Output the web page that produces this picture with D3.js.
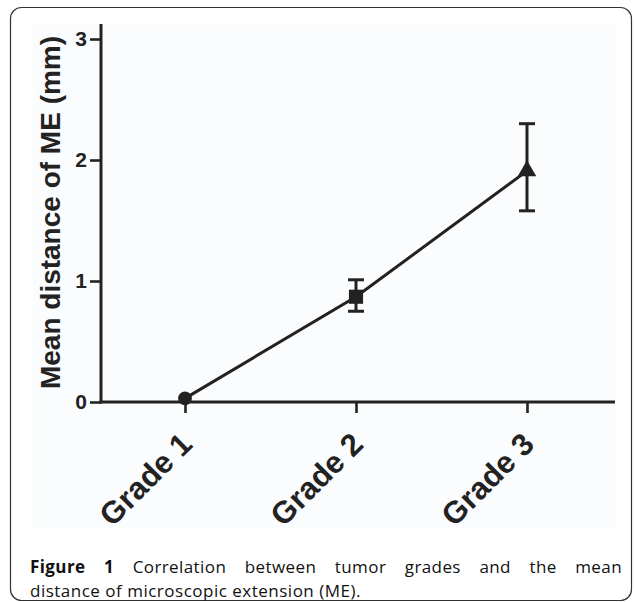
<!DOCTYPE html>
<html><head><meta charset="utf-8">
<script src="https://cdn.jsdelivr.net/npm/d3@7/dist/d3.min.js"></script>
<style>html,body{margin:0;padding:0;background:#fff;}svg{display:block;}</style>
</head><body>
<svg id="c" width="634" height="602"></svg>
<script>
const grades = ["Grade 1", "Grade 2", "Grade 3"];
const means = [0.03, 0.87, 1.91];
const errLow = [0.03, 0.75, 1.58];
const errHigh = [0.03, 1.01, 2.30];
const markers = ["circle", "square", "triangle"];
const yTicks = [0, 1, 2, 3];
const yLabel = "Mean distance of ME (mm)";
const captionBold = "Figure 1";
const captionLine1 = "Correlation between tumor grades and the mean";
const captionLine2 = "distance of microscopic extension (ME).";

const svg = d3.select("#c");
const ink = "#222";

// frame
svg.append("rect").attr("x", 10.5).attr("y", 7.5).attr("width", 621).attr("height", 593)
  .attr("rx", 11).attr("fill", "#fff").attr("stroke", "#333").attr("stroke-width", 1.2);
svg.append("rect").attr("x", 33).attr("y", 25).attr("width", 582).attr("height", 503).attr("fill", "#fbfcfe");

const y = d3.scaleLinear().domain([0, 3]).range([402, 39]);
const x = d3.scalePoint().domain(grades).range([185, 527]);
const x0 = 101, x1 = 615;

const g = svg.append("g");
// y axis
const yAxis = g.append("g").attr("transform", `translate(${x0},0)`)
  .call(d3.axisLeft(y).tickValues(yTicks).tickSize(11).tickPadding(3).tickFormat(d3.format("d")));
yAxis.select(".domain").remove();
yAxis.selectAll("line").attr("stroke", ink).attr("stroke-width", 2.6);
yAxis.selectAll("text").attr("fill", ink).attr("font-family", "Liberation Sans, Arial, sans-serif")
  .attr("font-weight", "bold").attr("font-size", 21);
g.append("line").attr("x1", x0).attr("x2", x0).attr("y1", 24).attr("y2", y(0) + 1.5)
  .attr("stroke", ink).attr("stroke-width", 3);

// x axis
const xAxis = g.append("g").attr("transform", `translate(0,${y(0)})`)
  .call(d3.axisBottom(x).tickSize(11).tickFormat(""));
xAxis.select(".domain").remove();
xAxis.selectAll("line").attr("stroke", ink).attr("stroke-width", 2.6);
g.append("line").attr("x1", x0 - 1.5).attr("x2", x1).attr("y1", y(0)).attr("y2", y(0))
  .attr("stroke", ink).attr("stroke-width", 3.2);

// x labels rotated
g.selectAll(".xl").data(grades).join("text")
  .attr("transform", d => `translate(${x(d) + 9},${y(0) + 44}) rotate(-45)`)
  .attr("text-anchor", "end").attr("fill", ink)
  .attr("font-family", "Liberation Sans, Arial, sans-serif").attr("font-weight", "bold")
  .attr("font-size", 31).text(d => d);

// y label
g.append("text").attr("transform", `translate(60,${(y(0) + y(3)) / 2 - 8}) rotate(-90)`)
  .attr("text-anchor", "middle").attr("fill", ink)
  .attr("font-family", "Liberation Sans, Arial, sans-serif").attr("font-weight", "bold")
  .attr("font-size", 28).text(yLabel);

// line
const data = grades.map((d, i) => ({ g: d, m: means[i], lo: errLow[i], hi: errHigh[i], mk: markers[i] }));
g.append("path").datum(data).attr("fill", "none").attr("stroke", ink).attr("stroke-width", 3)
  .attr("d", d3.line().x(d => x(d.g)).y(d => y(d.m)));

// error bars
const eb = g.selectAll(".eb").data(data.filter(d => d.hi > d.lo)).join("g");
eb.append("line").attr("x1", d => x(d.g)).attr("x2", d => x(d.g)).attr("y1", d => y(d.lo)).attr("y2", d => y(d.hi))
  .attr("stroke", ink).attr("stroke-width", 3);
eb.append("line").attr("x1", d => x(d.g) - 8).attr("x2", d => x(d.g) + 8).attr("y1", d => y(d.lo)).attr("y2", d => y(d.lo))
  .attr("stroke", ink).attr("stroke-width", 3);
eb.append("line").attr("x1", d => x(d.g) - 8).attr("x2", d => x(d.g) + 8).attr("y1", d => y(d.hi)).attr("y2", d => y(d.hi))
  .attr("stroke", ink).attr("stroke-width", 3);

// markers
const symType = { circle: d3.symbolCircle, square: d3.symbolSquare, triangle: d3.symbolTriangle };
const symSize = { circle: 150, square: 200, triangle: 150 };
g.selectAll(".mk").data(data).join("path")
  .attr("transform", d => `translate(${x(d.g)},${y(d.m)})`)
  .attr("d", d => d3.symbol().type(symType[d.mk]).size(symSize[d.mk])())
  .attr("fill", ink);

// caption (line 1 justified)
const capFont = "'Open Sans', 'Noto Sans', sans-serif";
const capSize = 17;
const left = 30, right = 622;
const l1 = svg.append("g");
const allWords = captionBold.split(" ").map(t => ({ t, b: true })).concat(captionLine1.split(" ").map(t => ({ t, b: false })));
const nodes = allWords.map(w => l1.append("text").attr("y", 572.5).attr("font-family", capFont)
  .attr("font-size", capSize).attr("letter-spacing", 0.4).attr("font-weight", w.b ? "bold" : "normal").attr("fill", "#111").text(w.t));
const widths = nodes.map(n => n.node().getComputedTextLength());
const total = d3.sum(widths);
const gap = Math.max(3, (right - left - total) / (nodes.length - 1));
let cx = left;
nodes.forEach((n, i) => { n.attr("x", cx); cx += widths[i] + gap; });
svg.append("text").attr("x", left).attr("y", 596.5).attr("font-family", capFont)
  .attr("font-size", capSize).attr("letter-spacing", 0.5).attr("fill", "#111").text(captionLine2);
</script>
</body></html>
